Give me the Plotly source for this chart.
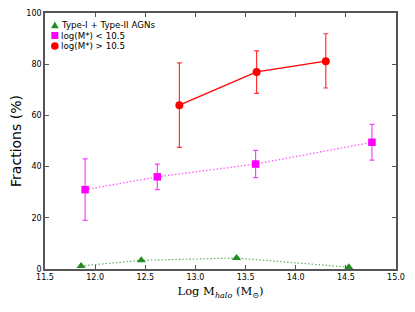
import plotly.graph_objects as go

# Data
agn_x = [11.86, 12.46, 13.41, 14.53]
agn_y = [1.2, 3.4, 4.3, 0.7]

low_x = [11.90, 12.62, 13.60, 14.76]
low_y = [31.0, 36.0, 41.0, 49.5]
low_err_up = [12.0, 5.0, 5.3, 7.0]
low_err_dn = [12.0, 5.0, 5.3, 7.0]

high_x = [12.84, 13.61, 14.30]
high_y = [64.0, 77.0, 81.2]
high_err_up = [16.5, 8.2, 10.7]
high_err_dn = [16.5, 8.4, 10.5]

names = ["Type-I + Type-II AGNs", "log(M*) < 10.5", "log(M*) > 10.5"]

GREEN = "#228B22"
MAG = "#FF00FF"
RED = "#FF0000"

fig = go.Figure()

fig.add_trace(go.Scatter(
    x=agn_x, y=agn_y, mode="lines+markers", name=names[0], showlegend=False,
    line=dict(color="rgba(34,139,34,0.75)", width=1.1, dash="1.5px,2px"),
    marker=dict(symbol="triangle-up", size=8, color=GREEN),
))
fig.add_trace(go.Scatter(
    x=low_x, y=low_y, mode="lines+markers", name=names[1], showlegend=False,
    line=dict(color="rgba(255,0,255,0.65)", width=1.3, dash="1.5px,2px"),
    marker=dict(symbol="square", size=7.5, color=MAG),
    error_y=dict(type="data", symmetric=False, array=low_err_up, arrayminus=low_err_dn,
                 color="rgba(255,0,255,0.75)", thickness=1.2, width=2.5),
))
fig.add_trace(go.Scatter(
    x=high_x, y=high_y, mode="lines+markers", name=names[2], showlegend=False,
    line=dict(color=RED, width=1.2),
    marker=dict(symbol="circle", size=8, color=RED),
    error_y=dict(type="data", symmetric=False, array=high_err_up, arrayminus=high_err_dn,
                 color="rgba(255,0,0,0.8)", thickness=1.2, width=2.5),
))

# Manual legend (markers only, compact rows)
leg_x = 0.028
leg_tx = 0.041
leg_rows = [0.953, 0.912, 0.871]
shapes = [
    dict(type="path", xref="paper", yref="paper", xsizemode="pixel", ysizemode="pixel",
         xanchor=leg_x, yanchor=leg_rows[0], path="M-3.8,-3.2 L3.8,-3.2 L0,3.6 Z",
         fillcolor=GREEN, line=dict(width=0)),
    dict(type="rect", xref="paper", yref="paper", xsizemode="pixel", ysizemode="pixel",
         xanchor=leg_x, yanchor=leg_rows[1], x0=-3.5, x1=3.5, y0=-3.5, y1=3.5,
         fillcolor=MAG, line=dict(width=0)),
    dict(type="circle", xref="paper", yref="paper", xsizemode="pixel", ysizemode="pixel",
         xanchor=leg_x, yanchor=leg_rows[2], x0=-3.8, x1=3.8, y0=-3.8, y1=3.8,
         fillcolor=RED, line=dict(width=0)),
]
annotations = [
    dict(text=nm, xref="paper", yref="paper", x=leg_tx, y=ry, xanchor="left", yanchor="middle",
         showarrow=False, font=dict(family="DejaVu Sans", size=8.7, color="black"))
    for nm, ry in zip(names, leg_rows)
]

axis_common = dict(
    showgrid=False, zeroline=False, showline=True, linecolor="#555555", linewidth=1.5,
    mirror="ticks", ticks="inside", ticklen=4, tickcolor="#555555", tickwidth=1,
    tickfont=dict(family="DejaVu Sans", size=8, color="black"),
)

fig.update_layout(
    width=407, height=304,
    margin=dict(l=37, r=19, t=5, b=43, autoexpand=False),
    paper_bgcolor="white", plot_bgcolor="white",
    showlegend=False,
    shapes=shapes, annotations=annotations,
    xaxis=dict(range=[11.5, 15.0], tickvals=[11.5, 12.0, 12.5, 13.0, 13.5, 14.0, 14.5, 15.0],
               ticktext=["11.5", "12.0", "12.5", "13.0", "13.5", "14.0", "14.5", "15.0"],
               title=dict(text="Log M<sub><i>halo</i></sub> (M<sub>⊙</sub>)",
                          font=dict(family="DejaVu Serif", size=11.5, color="black"),
                          standoff=6),
               **axis_common),
    yaxis=dict(range=[0, 100], tickvals=[0, 20, 40, 60, 80, 100],
               title=dict(text="Fractions (%)",
                          font=dict(family="DejaVu Sans", size=14, color="black"),
                          standoff=8),
               **axis_common),
)

fig.write_html("out.html")
